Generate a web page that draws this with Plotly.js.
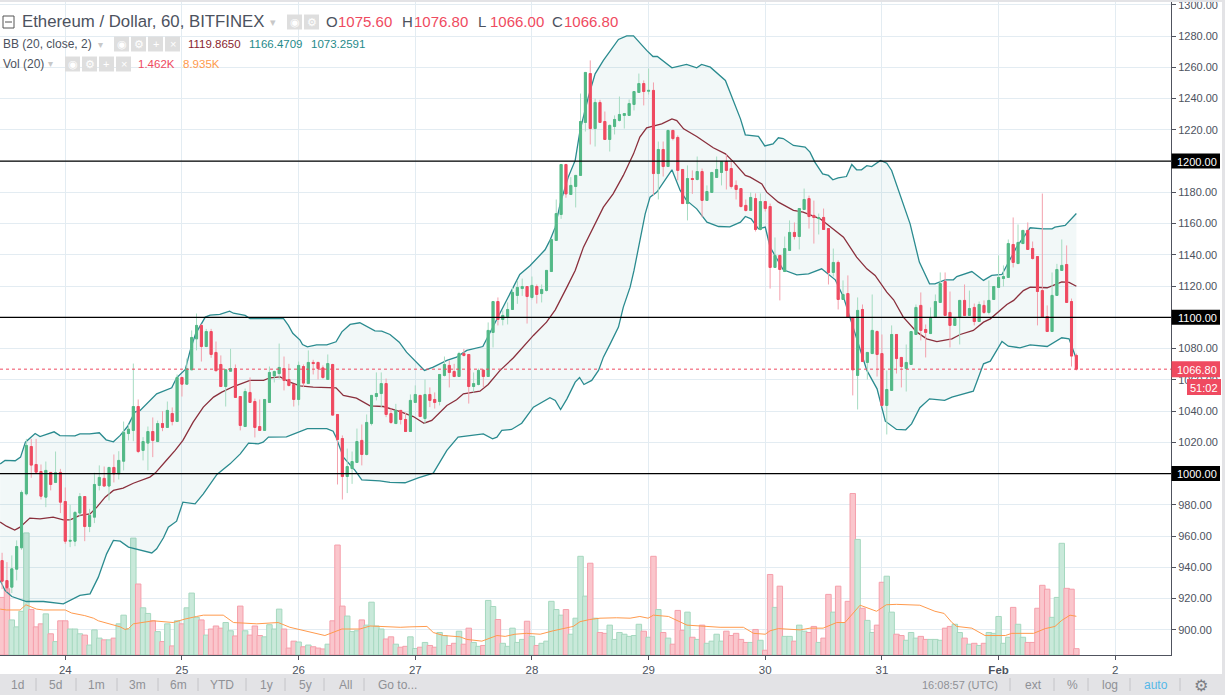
<!DOCTYPE html>
<html><head><meta charset="utf-8">
<script src="https://cdn.plot.ly/plotly-3.0.1.min.js"></script>
<style>html,body{margin:0;padding:0;background:#fff}#c{width:1225px;height:695px}</style>
</head><body><div id="c"></div>
<script>
// Hours since 24 Jan 00:00 UTC; first candle is 23 Jan 11:00
const firstHour = -13;
const open = [
944.3,931.5,927.3,938.8,952.5,987,1017.3,1005.8,1001.3,984.9,
1000.7,994.3,1000.7,982.1,956.7,956.7,974.7,985.3,966.1,972.1,
992.4,996.9,992,1003.9,999.8,1007.9,1025.6,1027.6,1042.9,1014.8,
1019.5,1026.9,1020.5,1032,1029.5,1038.4,1033.3,1061.5,1057.2,1066.4,
1086.2,1094.8,1081.3,1090.9,1077.5,1069.8,1055.7,1065.5,1067.2,1049.3,
1030.1,1051.9,1046.1,1030.1,1027.6,1045.5,1062.5,1064,1067.2,1060.2,
1057,1047.4,1068.5,1057.6,1071.1,1071.1,1067.6,1060.2,1069.8,1037.8,
1022.4,998.1,1003.2,1007.1,1021.2,1012.2,1032,1049.3,1051.2,1057.6,
1038.4,1032,1040.4,1034.6,1026.9,1045.5,1050,1035.2,1050.6,1047.4,
1046.1,1062.8,1069.2,1065.3,1062.1,1076.8,1076.2,1055.7,1057,1066.2,
1062.1,1090.3,1110.1,1098.6,1100.5,1105,1114,1118.4,1119.7,1112.7,
1119.7,1115.2,1117.2,1129.3,1149.2,1165.8,1197.8,1178.6,1183.7,1190.8,
1224.7,1256,1220.8,1237.5,1225.3,1213.8,1222.1,1226,1229.2,1229.2,
1236.2,1243.9,1249.6,1244.7,1245.2,1192,1207.4,1196.5,1219.6,1215.1,
1194.6,1172.8,1188.8,1188.2,1193.3,1174.8,1179.9,1189.5,1192.7,1199.7,
1195.2,1184.4,1182.4,1171.6,1168.4,1176,1156.2,1174.1,1170.9,1131.9,
1139.6,1129.3,1142.8,1154.3,1151.7,1169,1176,1165.2,1163.2,1163.9,
1156.8,1128.7,1135.1,1111.4,1115.2,1099.9,1062.8,1105,1071.1,1076.8,
1090.9,1076.8,1043.6,1053.2,1089,1074.3,1067.2,1069.8,1089,1107.6,
1092.2,1089.6,1099.9,1109.5,1122.9,1103.1,1094.8,1099.9,1110.8,1101.2,
1106.3,1097.3,1107.6,1103.1,1111.4,1119.1,1124.8,1125.5,1146.6,1134.4,
1147.2,1155.6,1144,1138.9,1117.1,1100.5,1090.9,1114,1130,1133.8,
1110.1,1075.6];
const high = [
949.3,943.3,947.6,957.2,989.2,1022.2,1022.2,1022.2,1005.8,1007.7,
1000.7,1014.1,1003,991.1,980,976,987.5,985.3,977.4,1000.5,
1005.2,1004.5,1004.1,1012.2,1014.3,1033.3,1031.4,1070.4,1047.4,1023.3,
1030.1,1035.9,1033.9,1039.9,1046.1,1042.3,1063.4,1061.5,1073.6,1091.6,
1102.4,1095.8,1092.6,1092.6,1084.5,1075.6,1067,1079.8,1069.8,1049.3,
1054.4,1061.5,1048,1047.4,1047.4,1068.5,1065.9,1083.2,1074.9,1070.2,
1057.4,1071.7,1069.8,1078.8,1072.8,1071.5,1069.2,1076.2,1070.2,1037.8,
1024.4,1016,1014.1,1028.8,1031.4,1037.8,1050,1064.7,1064.7,1060.8,
1041.6,1044.6,1040.4,1039.1,1050.6,1056.4,1050,1060.2,1055.1,1051.9,
1063.4,1074.9,1072.4,1070.2,1077.9,1079.8,1076.2,1064.7,1067.2,1066.6,
1096.7,1110.1,1112.7,1104.4,1109.5,1119.3,1123.6,1124.8,1119.7,1126.1,
1121,1121,1130,1149.8,1175.4,1197.8,1198.2,1189.7,1190.8,1243.2,
1256.7,1264.4,1240,1239.2,1231.7,1223.4,1229.2,1241.3,1230.4,1239.4,
1244.5,1256,1251.6,1259.2,1250.3,1212.5,1212.5,1219.6,1219.6,1216.4,
1194.6,1197.2,1194,1202.9,1195.2,1184.4,1192.7,1202.9,1199.7,1204.2,
1200.4,1187.6,1182.4,1175.4,1179.9,1179.3,1179.3,1174.1,1172.8,1151.1,
1139.6,1151.7,1162,1160.7,1169.6,1182.4,1177.9,1174.7,1166.4,1169.6,
1156.8,1144,1136.4,1123.6,1126.8,1099.9,1112.7,1108.2,1077.5,1114.6,
1091.6,1089,1066,1094.8,1089,1074.3,1082.6,1090.9,1108.2,1115.9,
1095.4,1106.3,1114.6,1128.7,1128.7,1116.5,1099.2,1110.8,1121,1117.1,
1108.8,1110.1,1110.8,1123.6,1119.7,1139.6,1133.2,1149.8,1163.9,1159.4,
1155.6,1160.7,1148.5,1138.9,1179.2,1107.6,1128.7,1134.2,1149.8,1146,
1112,1076.8];
const low = [
926,924.1,923.5,931.6,951.2,986,997.3,1000.7,983.4,978.5,
989.2,993.9,974.7,955,952.9,953.5,972.1,956.7,962.5,968.3,
989.2,992,982.8,994.3,996.2,1002,1021.2,1020.7,1013.1,1008.4,
1002,1010.5,1020.1,1027.1,1029.5,1030.8,1033.3,1049.3,1057.2,1066.4,
1078.8,1071.7,1080.9,1074.1,1065.8,1055.7,1042.9,1065.5,1048.7,1027.6,
1030.1,1045.5,1023.1,1027.6,1027.6,1045.5,1058.3,1060.6,1053.2,1055.7,
1042.9,1043.6,1055.3,1057.4,1063.4,1060.2,1060.6,1060.2,1037.4,993,
983.4,987.5,993.4,1007.1,1005.2,1011.6,1030.8,1046.8,1042.5,1036.1,
1031.8,1031.8,1031.4,1026.9,1026.9,1045.5,1036.1,1031.8,1042.5,1041.6,
1043.6,1062.1,1055.1,1061.7,1062.1,1074.9,1044.8,1051.9,1056.4,1055.1,
1062.1,1080.7,1094.8,1094.8,1095.4,1105,1108.6,1113.7,1096,1111.4,
1108.8,1109.5,1116.5,1129.3,1149.2,1163,1176.5,1178.6,1170.3,1190.8,
1218.9,1210.6,1209.3,1224.7,1213.8,1206.1,1217,1225.3,1220.8,1229.2,
1232.4,1243.9,1235.6,1242.6,1178,1175.4,1190.1,1196.5,1213.2,1187.6,
1172.8,1162,1179,1187.6,1164.1,1174.8,1179.9,1189.5,1184.4,1181.8,
1182.4,1175.4,1170.3,1167.7,1168.4,1154.9,1155.6,1167.7,1118.4,1131.9,
1110.8,1129.3,1142.8,1149.8,1143.4,1169,1156.8,1147.2,1153,1156.2,
1121,1126.1,1105,1111.4,1099.9,1050,1041,1071.7,1060.2,1076.8,
1062.1,1042.9,1025,1053.2,1064,1055.1,1052.5,1069.8,1089,1085.2,
1074.3,1089.6,1099.9,1109.5,1101.2,1080.7,1094.8,1082.6,1101.2,1101.2,
1094.8,1097.3,1102.2,1101.8,1111.4,1119.1,1119.7,1125.5,1131.9,1134.4,
1147.2,1143.4,1137,1094.8,1099.9,1090.9,1090.9,1114,1130,1109.5,
1068.5,1066];
const close = [
931.1,926.9,939,953.3,987.9,1018,1005.4,1000.9,985.5,1002,
993,1000.5,981.7,956.7,957.2,975.1,985.3,966.1,973.2,993,
997.5,992,1003.9,999.8,1008.4,1026.3,1028.4,1042.9,1014.1,1020.5,
1026.9,1021.2,1032,1029.5,1040.4,1033.3,1061.5,1057.2,1067,1087.1,
1094.8,1081.3,1090.9,1076.2,1065.8,1055.7,1066.4,1067.2,1048.7,1030.8,
1052.5,1045.5,1029.5,1027.6,1047.4,1064.7,1065.3,1067.9,1059.6,1056.4,
1047.4,1069.2,1057.9,1071.1,1070.4,1067.2,1061.5,1070.4,1037.4,1021.8,
998.1,1004.5,1007.7,1020.5,1012.2,1032.7,1050,1051.2,1057.6,1037.8,
1032.7,1040.4,1034.6,1026.9,1046.8,1050.6,1036.5,1050.6,1046.8,1045.5,
1063.4,1069.8,1064.7,1062.1,1076.8,1075.6,1055.7,1057.6,1066,1062.1,
1091.6,1110.1,1098.6,1101.2,1105,1115.9,1119.1,1119.7,1113.3,1120.4,
1114.6,1117.8,1130,1149.8,1166.4,1197.8,1179,1184.4,1190.8,1225.3,
1256.7,1220.8,1237.5,1224.7,1213.8,1222.8,1226.6,1229.8,1230.4,1236.8,
1244.5,1249.6,1244.5,1245.2,1192,1207.4,1196.5,1219.6,1214.4,1194,
1172.8,1188.8,1188.2,1193.3,1174.8,1180.5,1192.7,1194.6,1199.7,1194,
1183.7,1181.8,1170.9,1168.4,1176.7,1156.2,1174.1,1169.6,1131.9,1139.6,
1130.6,1144,1154.3,1151.7,1169.6,1175.4,1164.5,1163.9,1163.7,1156.2,
1128.7,1135.1,1111.4,1114.6,1099.9,1066.4,1104.4,1071.7,1077.5,1091.6,
1076.2,1043.6,1053.8,1089,1073.6,1068.5,1071.1,1090.9,1106.3,1091.6,
1090.3,1099.9,1110.1,1121.6,1101.2,1094.8,1099.2,1110.8,1101.2,1105.6,
1097.3,1108.2,1103.1,1110.8,1119.7,1125.5,1126.1,1147.2,1135.1,1147.9,
1155.6,1143.4,1137.6,1116.5,1099.9,1090.9,1114,1130.6,1133.2,1109.5,
1075.2,1066.8];
// Volume, thousands
const volume = [
13.3,15.3,8.1,6.5,10.1,28.2,10.5,6.5,7.2,9.5,
4.9,3.1,7.9,7.9,6,6,4.9,4.6,2.3,5.8,
3.9,3.5,3.5,3.9,7.2,9.2,6,27,16.4,10.9,
9.6,7.9,5.4,3.1,7.2,2.1,7.9,7.2,10.9,14.3,
8.7,8.1,4.6,6,6.7,6.2,7.5,5.6,4.4,11.3,
5.6,4.6,6.7,4.5,4.2,7,6,10.6,6,1.6,
3.2,3,1.9,2.3,1.9,1.6,1.4,2.5,7.9,25.4,
11.3,9,5.4,5.6,8.1,6.9,12.2,6.7,6,3.7,
4.2,2.5,1.8,2,4.2,1.5,1.8,2.9,2.2,1.8,
5.2,4.5,2.2,2.7,5.5,2.5,6.2,2.9,2,2.2,
12.6,11.2,8.2,2.7,2,6.2,2.9,3.6,7.8,4.3,
2.2,2.7,3.2,12.4,10.5,9.2,10.5,4.8,8.5,22.8,
13.6,21.2,8.5,5.2,5,6.9,3.6,5.2,4.8,4.3,
4.5,7.1,5.5,4.1,22.8,10.5,5.2,3.9,2.5,10.3,
5.7,9.9,4.1,3.6,6.9,2.7,3.2,4.8,3.2,5.5,
4.5,5,3.6,2.9,2.9,5.9,3.4,1.1,18.6,11,
15.9,4.3,4.3,3.2,6.9,5.5,5.2,6.6,2.9,3.9,
14,9.9,15.9,7.5,12.4,37.3,26.7,10.8,8,5.2,
6.9,16.8,18.2,9.9,4.8,4.5,3.4,5.2,3.9,4.3,
3.6,3.6,3.6,3.4,6.2,6.6,7.1,5.2,3.9,2.5,
2.7,2.2,2.7,5.2,5,8.9,2.7,4.1,11,7.1,
4.1,2.9,2.9,10.8,16.1,15.2,8.7,13.3,25.8,15.4,
15.2,1.462];
const volMaHours = [-13.4,-12.1,-9.3,-8.1,-5.9,-4.5,0,1.3,4,5.8,6.8,11.3,12.3,13,14,16,18.1,22.2,24.6,27,28.4,32.5,34.6,39.4,43.8,46.2,53.4,56.9,60.6,62.7,68.9,70.9,74.4,75.7,77.8,81.2,82.6,85.7,88.8,90.5,92.5,94.9,97.7,100.4,104.5,105.9,107.9,110,113.4,116.2,118.2,119.9,121,124.1,127.9,132,134.7,139.5,141.6,144,145,146.7,151.2,153.2,155.9,158.7,160.4,163.5,166.9,168.9,171,175.8,178.9,180.8,182.4,183.4,186.5,189.2,193.4,194.7,199.2,201.6,203.6,205,206.7,208];
const volMa = [10.6,10.4,10.4,11.6,10.6,10.4,10.4,9.7,9.1,8.5,7.9,6.5,5.9,6.1,7.2,7.5,7.9,7.5,8.3,8.9,9.2,9.2,7.5,7.2,7.5,6.4,4.5,6,6,6.7,6.4,6.5,6.6,5.2,4.5,4.2,3.6,3.2,4.5,4.3,4.8,5,4.8,5.6,6.6,7.7,8.2,8.5,8.6,8.5,8.9,8.5,9.2,8.9,6.9,6.6,6.4,6.4,5,4.8,5.6,6.1,5.8,6.2,6.2,7.5,7.5,11.5,10.1,11.6,11.7,11.5,10.1,9.6,7.5,6.6,6.2,4.5,4.5,5,5,6.1,6.6,8,9.2,8.935];

// Bollinger Bands (20, close, 2)
const bbUpperHours = [-13.4,-12.4,-10.3,-9.2,-8.2,-6.2,-5.2,-2.3,-1.1,2,3,5,7,8.4,9.9,11.3,12.8,14.3,15.4,16.7,18.8,21.9,22.9,24.7,25.7,26.8,28.8,29.8,31.8,33.8,34.6,37,38,44.9,45.9,46.8,48.3,48.8,49.8,51.7,53.8,55.7,56.9,58.6,60.6,63.7,65.1,66.8,68.7,70.2,73.9,75.7,78.5,80.5,82.6,85.9,86.7,87.7,89.4,91.5,93.5,95.6,98.7,99.7,100.8,101.8,103.5,104.9,105.9,107.6,109,110.7,113.8,115.5,116.9,119.6,120.9,121.8,124.8,127.8,129.9,130.9,132.7,135.8,138.9,139.9,142.6,143.9,145.6,146.7,147.7,149.8,151.5,152.2,153.2,154.2,155.8,157,157.9,159,160.7,161.8,162.8,163.8,164.9,165.9,167.7,169,170,170.7,172.1,173.8,175.7,177.8,178.9,181,182.7,183.4,186.5,188.9,190.6,192.7,195.7,198.5,201.2,203,203.6,205.7,208];
const bbUpper = [1006.2,1008.4,1008.2,1010.5,1020.1,1025.6,1023.7,1026.7,1024.3,1024.1,1025.4,1025.4,1026.1,1021.6,1020.3,1024.4,1030.1,1039.3,1040.4,1044.2,1051,1054.9,1061.3,1066.6,1078.8,1089.4,1100.1,1101.4,1101.8,1103.9,1102.6,1101.2,1099.2,1099.2,1094.8,1089.8,1085.4,1082.6,1081.1,1082.4,1082.4,1084.3,1090.7,1095.4,1096.5,1091.3,1091.1,1089,1084.1,1077.7,1066,1068.1,1072.4,1074.5,1078.8,1081.3,1086.2,1091.6,1102.2,1115,1127.4,1133,1143.2,1149.2,1157.7,1172.6,1190,1200.4,1219.6,1240.9,1255.8,1264.4,1277.8,1280.1,1280.1,1270.8,1266.9,1266.9,1259.7,1261.8,1259.7,1261.8,1260.1,1251.6,1227,1216.8,1215.8,1209.7,1211,1214.9,1214.4,1210,1208.9,1208.9,1205.7,1199.3,1191.8,1190.8,1188,1189.3,1190.1,1197.8,1194.4,1194.4,1197,1196.5,1200.4,1198.6,1194,1187.5,1174.8,1159.8,1135.3,1121.4,1121.4,1124,1124,1126.1,1129.3,1123.6,1126.8,1127.4,1144.9,1157.3,1156.6,1156.6,1157.7,1158.8,1166.47];
const bbMidHours = [-13.4,-12.1,-10.4,-9.3,-7.3,-5.2,-2.5,-0.4,1,3,5.1,6.5,8.2,9.9,11.9,14,17.4,18.5,20.9,22.6,24.2,26.3,28.4,30.5,32.2,34.6,38,40.8,42.1,44.2,46.2,48.3,51,53.8,55.7,57.2,59.9,62.7,65.4,68.9,71.6,73.8,75.4,78.5,80.5,81.9,85.3,87,89.4,92.2,96.3,99,100.8,103.2,104.9,106.6,108.6,110.7,112.7,114.8,116.9,118.2,119.6,122.7,124.8,125.8,127.2,129.9,133.3,135.8,137.5,139.9,140.9,143.3,144.3,146.7,149.8,151.8,155.3,158,160.1,162.8,164.9,166.6,169,170.4,172.4,175.2,177.2,179.3,182.4,184.1,186.8,188.9,190.3,193.7,195.1,197.1,198.5,202,205,206.5,208];
const bbMid = [968.9,966.3,963.8,965.7,971.5,971,972.1,970.4,970.4,973.2,974.2,978.5,984.9,989.2,990.7,993.8,997.7,1000.3,1008.8,1014.8,1021.2,1032.9,1042.5,1048.9,1052.1,1055.7,1059.6,1059.6,1061.3,1061.9,1058.5,1056.1,1055.3,1055.3,1054.9,1050,1048.2,1043.3,1042.9,1039.7,1036.5,1032.2,1034,1043.6,1047.2,1051,1052.7,1057,1065.9,1074.1,1088.4,1096.9,1104.8,1119.3,1130,1144.9,1157.7,1170.5,1179,1190.8,1204.6,1215.3,1221.3,1223.8,1227,1225.9,1220.6,1215.7,1208.5,1204.6,1199.3,1190.8,1189.7,1185.3,1180.1,1173.7,1168.4,1167.3,1163,1156.6,1151.3,1138.5,1131,1126.8,1116.1,1111.2,1100.1,1090.5,1086.2,1084.5,1086.2,1089,1091.6,1096.9,1099,1108.2,1110.8,1117.1,1119.3,1118.9,1122.7,1122.3,1119.87];
const bbLowerHours = [-13.4,-12.4,-11,-8,-4.5,-0.4,3,5.1,6.8,8.5,9.9,11.3,13,17.8,18.8,20.2,21.2,22.9,24.2,26.7,28.4,31.2,33.9,36,37.7,39.7,40.7,41.8,45.5,48.3,49.8,53.8,55.1,55.7,57.2,59.6,61,64.7,66.8,69.9,72.6,75.7,78.5,80.8,86,87.9,88.8,89.8,91.8,93.9,96.3,99.7,100.8,101.9,103.2,104.9,105.8,106.7,108.3,109.7,110.7,112.1,113.8,114.8,116.2,117,119.3,120.3,121.7,124.8,126.5,127.8,129.9,132,134.4,136.7,138.9,139.9,141.1,142.6,144,145,147.7,150.5,152.9,155.6,158.4,160.1,161.8,164.9,167,168.7,171,172.9,174.1,175.8,177.8,180.9,182.4,186.8,188.9,190.3,192.7,194,196.4,198.5,202,203,205,206.5,208];
const bbLower = [931.6,925.2,921.3,918.1,918.1,916.6,922,923,933.7,948.6,957.2,956.7,952.9,949.2,951.8,958.9,965.7,969.5,981.7,980.6,987,999.4,1006.2,1012.6,1019.5,1019,1020.1,1023.3,1023.5,1027.2,1028.8,1028.8,1027.1,1023.3,1010.5,1002,996,995.3,994.3,994.1,997.3,1000.3,1014.8,1023.3,1025.4,1022.2,1023.3,1027.6,1028.2,1032.2,1042.5,1048.5,1046.8,1041,1047.8,1058.5,1061.5,1057,1059.6,1066,1074.5,1083,1093.7,1106.5,1119.3,1130,1166.2,1176.9,1180.1,1194.4,1181.2,1174.8,1169.4,1160.9,1158.1,1157.9,1160.9,1164.5,1163,1156.6,1157.7,1144.9,1130.4,1127.2,1127.8,1131,1124,1112.9,1095.8,1066,1054.2,1033.5,1028.2,1028,1031.8,1042.1,1047.8,1046.8,1048.9,1052.7,1070.2,1071.9,1084.5,1081.5,1080.5,1082.4,1081.3,1083,1086.9,1086.2,1073.26];

const srLevels = [1000,1100,1200];
const srLabels = ['1000.00','1100.00','1200.00'];
const lastPrice = 1066.8;
const priceTicks = [900,920,940,960,980,1000,1020,1040,1060,1080,1100,1120,1140,1160,1180,1200,1220,1240,1260,1280,1300];
const dayTicks = [0,24,48,72,96,120,144,168,192,216];
const dayLabels = ['24','25','26','27','28','29','30','31','<b>Feb</b>','2'];
const rangeButtons = ['1d','5d','1m','3m','6m','YTD','1y','5y','All','Go to...'];
const rightButtons = ['16:08:57 (UTC)','ext','%','log','auto'];

const hours = open.map((_, i) => firstHour + i);
const RED='#ef4a60', GREEN='#53b987', REDL='#f3a0ac', GREENL='#a6dcc2';
const TEAL='#2a8b8f', MAROON='#8a2f3c';

const volColor = hours.map((_, i)=> close[i]<open[i] ? '#fac6cc' : '#c9e9da');
const volLine  = hours.map((_, i)=> close[i]<open[i] ? '#f59fab' : '#a5d8bf');

const traces = [
 {type:'bar',x:hours,y:volume,yaxis:'y',width:1.12,marker:{color:volColor,line:{color:volLine,width:1}},hoverinfo:'skip',name:'Vol'},
 {type:'scatter',mode:'lines',x:volMaHours,y:volMa,yaxis:'y',line:{color:'#ff9a4d',width:1},hoverinfo:'skip',name:'Vol MA'},
 {type:'scatter',mode:'lines',x:bbUpperHours,y:bbUpper,yaxis:'y2',line:{color:TEAL,width:1.3},hoverinfo:'skip',name:'BB upper'},
 {type:'scatter',mode:'lines',x:bbLowerHours,y:bbLower,yaxis:'y2',line:{color:TEAL,width:1.3},fill:'tonexty',fillcolor:'rgba(42,139,143,0.06)',hoverinfo:'skip',name:'BB lower'},
 {type:'scatter',mode:'lines',x:bbMidHours,y:bbMid,yaxis:'y2',line:{color:MAROON,width:1.3},hoverinfo:'skip',name:'BB mid'},
 {type:'candlestick',x:hours,open,high,low,close,yaxis:'y3',whiskerwidth:0,
  increasing:{line:{color:GREENL,width:1},fillcolor:GREENL},
  decreasing:{line:{color:REDL,width:1},fillcolor:REDL},hoverinfo:'skip',name:'Wicks'},
 {type:'candlestick',x:hours,open,close,
  high:hours.map((_,i)=>Math.max(open[i],close[i])),
  low:hours.map((_,i)=>Math.min(open[i],close[i])),yaxis:'y3',whiskerwidth:0,
  increasing:{line:{color:GREEN,width:1},fillcolor:GREEN},
  decreasing:{line:{color:RED,width:1},fillcolor:RED},hoverinfo:'skip',name:'Bodies'}
];

const PW=1171, PH=655, PTOP=1303.07, PBOT=883.87;
const X=p=>p/PW, Y=p=>1-p/PH;
const FONT='"Liberation Sans", Arial, sans-serif';
const shapes=[], ann=[];
function rect(x0,y0,x1,y1,fill,line){shapes.push({type:'rect',xref:'paper',yref:'paper',x0:X(x0),x1:X(x1),y0:Y(y0),y1:Y(y1),fillcolor:fill,line:{width:line?1:0,color:line||fill}});}
function txt(x,y,t,size,color,anchor,extra){ann.push(Object.assign({xref:'paper',yref:'paper',x:X(x),y:Y(y),text:t,showarrow:false,xanchor:anchor||'left',yanchor:'middle',font:{family:FONT,size:size,color:color},borderpad:0,borderwidth:0},extra||{}));}
function vline(x,y0,y1,c){shapes.push({type:'line',xref:'paper',yref:'paper',x0:X(x),x1:X(x),y0:Y(y0),y1:Y(y1),line:{color:c,width:1}});}

srLevels.forEach(v=>shapes.push({type:'line',xref:'paper',yref:'y3',x0:0,x1:1,y0:v,y1:v,line:{color:'#000',width:1.3}}));
shapes.push({type:'line',xref:'paper',yref:'y3',x0:0,x1:1,y0:lastPrice,y1:lastPrice,line:{color:RED,width:1,dash:'dot'}});

// top strip, bottom toolbar, right strip
rect(0,0,1225,2,'#e3e3e6');
rect(0,674,1225,695,'#e3e3e6');
rect(1222,0,1225,695,'#e3e3e6');

// price labels
srLevels.forEach((v,i)=>{const py=(PTOP-v)*1.5625; rect(1171.5,py-7.5,1220,py+7.5,'#000000'); txt(1197,py+0.5,srLabels[i],11,'#fff','center');});
const lpy=(PTOP-lastPrice)*1.5625;
rect(1171.5,lpy-8,1220,lpy+8,RED); txt(1197,lpy+0.5,'1066.80',11,'#fff','center');
rect(1187,379,1221,395,RED); txt(1204,387.5,'51:02',11,'#fff','center');

// header lines
shapes.push({type:'rect',xref:'paper',yref:'paper',x0:X(3),x1:X(14),y0:Y(16),y1:Y(28),line:{color:'#555',width:1},fillcolor:'rgba(0,0,0,0)'});
shapes.push({type:'line',xref:'paper',yref:'paper',x0:X(5),x1:X(12),y0:Y(22),y1:Y(22),line:{color:'#555',width:1}});
txt(22,22,'Ethereum / Dollar, 60, BITFINEX',16.8,'#4c525e');
txt(273,22,'▾',11,'#c8c8c8','center');
const ohlc=[['O',326,'1075.60',338],['H',402,'1076.80',414],['L',478,'1066.00',490],['C',552,'1066.80',564]];
ohlc.forEach(o=>{txt(o[1],22,o[0],15,'#4c525e'); txt(o[3],22,o[2],15,RED);});
txt(3,44,'BB (20, close, 2)',12,'#4c525e');
txt(100,44,'▾',10,'#c8c8c8','center');
txt(188,44,'1119.8650',11.5,'#8a1f2f');
txt(249,44,'1166.4709',11.5,'#1f8a8a');
txt(311,44,'1073.2591',11.5,'#1f8a8a');
txt(3,64,'Vol (20)',12,'#4c525e');
txt(50,64,'▾',10,'#c8c8c8','center');
txt(138,64,'1.462K',11.5,RED);
txt(183,64,'8.935K',11.5,'#ff9a4d');
function icons(x0s,y,glyphs){x0s.forEach((x,i)=>{rect(x,y-7.5,x+15,y+7.5,'#dedede'); txt(x+7.5,y,glyphs[i],11,'#fff','center');});}
icons([287,304],22,['◉','⚙']);
icons([114,131,148,165],44,['◉','⚙','+','×']);
icons([65,82,99,116],64,['◉','⚙','+','×']);

// toolbar
const btnX=[17,56,96,137,178,222,266,305,345,397];
rangeButtons.forEach((t,i)=>txt(btnX[i],685,t,12,'#8f9196','center'));
[36,76,117,158,198,246,285,324,364,1010,1054,1088,1130,1180].forEach(x=>vline(x,678,691,'#c4c4c8'));
const rbX=[960,1033,1072,1110,1156], rbC=['#8f9196','#8f9196','#8f9196','#8f9196','#55b8e8'], rbS=[11,12,12,12,12];
rightButtons.forEach((t,i)=>txt(rbX[i],685,t,rbS[i],rbC[i],'center'));
txt(1201,685,'⚙',16,'#7c7e84','center',{font:{family:'"DejaVu Sans"',size:16,color:'#7c7e84'}});

const layout={
 width:1225,height:695,paper_bgcolor:'#fff',plot_bgcolor:'#fff',showlegend:false,boxmode:'overlay',boxgap:0.4,bargap:0,
 margin:{l:0,r:54,t:0,b:40,pad:0,autoexpand:false},
 xaxis:{range:[-13.43,227.47],tickmode:'array',tickvals:dayTicks,ticktext:dayLabels,showgrid:true,gridcolor:'#e3ecf2',gridwidth:1,zeroline:false,
   showline:true,linecolor:'#50535e',linewidth:1,ticks:'outside',ticklen:4,tickcolor:'#50535e',
   tickfont:{family:FONT,size:11.5,color:'#4c525e'},rangeslider:{visible:false},fixedrange:true},
 yaxis:{range:[0,151.3],showgrid:false,zeroline:false,showticklabels:false,ticks:'',fixedrange:true},
 yaxis2:{overlaying:'y',side:'right',range:[PBOT,PTOP],showgrid:false,zeroline:false,showticklabels:false,ticks:'',fixedrange:true},
 yaxis3:{overlaying:'y',side:'right',range:[PBOT,PTOP],tickmode:'array',tickvals:priceTicks,
   ticktext:priceTicks.map(v=>srLevels.includes(v)?'':v.toFixed(2)),ticklabeloverflow:'allow',
   showgrid:true,gridcolor:'#e3ecf2',gridwidth:1,zeroline:false,showline:true,linecolor:'#50535e',linewidth:1,
   ticks:'outside',ticklen:4,tickcolor:'#50535e',tickfont:{family:FONT,size:11,color:'#4c525e'},fixedrange:true},
 shapes,annotations:ann
};
Plotly.newPlot('c',traces,layout,{displayModeBar:false,staticPlot:true});
</script></body></html>
